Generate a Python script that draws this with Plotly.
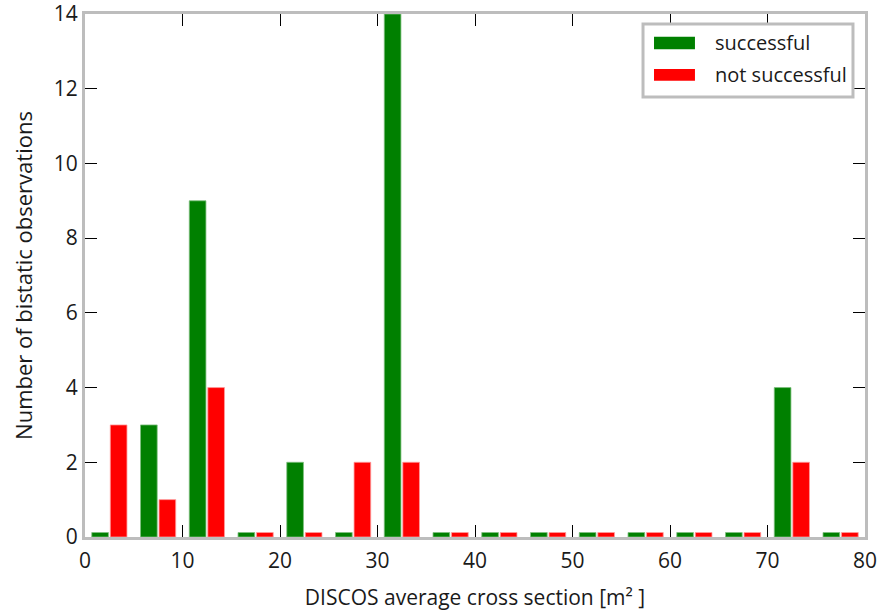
import plotly.graph_objects as go

bin_centers = [2.5, 7.5, 12.5, 17.5, 22.5, 27.5, 32.5, 37.5, 42.5, 47.5, 52.5, 57.5, 62.5, 67.5, 72.5, 77.5]
successful = [0, 3, 9, 0, 2, 0, 14, 0, 0, 0, 0, 0, 0, 0, 4, 0]
not_successful = [3, 1, 4, 0, 0, 2, 2, 0, 0, 0, 0, 0, 0, 0, 2, 0]
series_names = ["successful", "not successful"]
series_colors = ["#008000", "#ff0000"]
edge_colors = ["#7fbf7f", "#ff9a9a"]
zero_height = 0.12  # zero bins drawn as thin stubs in the original

def disp(vals):
    return [v if v > 0 else zero_height for v in vals]

font_family = "Open Sans, Noto Sans, DejaVu Sans, sans-serif"
text_color = "#1a1a1a"
frame_color = "#bdbdbd"
fs = 21

fig = go.Figure()
for vals, name, col, ecol in zip([successful, not_successful], series_names, series_colors, edge_colors):
    fig.add_trace(go.Bar(x=bin_centers, y=disp(vals), name=name,
                         marker=dict(color=col, line=dict(color=ecol, width=0.8)),
                         showlegend=False))

axis_common = dict(
    showline=True, linecolor=frame_color, linewidth=3, mirror="ticks",
    ticks="inside", ticklen=12, tickwidth=1.2, tickcolor="#000000",
    showgrid=False, zeroline=False, automargin=False, ticklabeloverflow="allow",
    tickfont=dict(family=font_family, size=fs, color=text_color),
)

fig.update_layout(
    width=879, height=612,
    margin=dict(l=85, r=14, t=14, b=75),
    paper_bgcolor="white", plot_bgcolor="white",
    barmode="group", bargap=0.24, bargroupgap=0.1,
    font=dict(family=font_family, size=fs, color=text_color),
    showlegend=False,
    xaxis=dict(range=[0, 80], tick0=0, dtick=10, ticklabelstandoff=3,
               title=dict(text="DISCOS average cross section [m² ]", standoff=18,
                          font=dict(family=font_family, size=fs, color=text_color)),
               **axis_common),
    yaxis=dict(range=[0, 14], tick0=0, dtick=2,
               title=dict(text="Number of bistatic observations", standoff=16,
                          font=dict(family=font_family, size=fs + 1, color=text_color)),
               **axis_common),
)

# Legend box drawn manually (wide swatches like the original)
shapes = [dict(type="rect", xref="paper", yref="paper", x0=0.7154, x1=0.9846, y0=0.8413, y1=0.9809,
               line=dict(color=frame_color, width=3), fillcolor="white", layer="above")]
swatch_y = [(0.9325, 0.9566), (0.8725, 0.8948)]
text_y = [0.9446, 0.8834]
annotations = []
for (y0, y1), ty, name, col in zip(swatch_y, text_y, series_names, series_colors):
    shapes.append(dict(type="rect", xref="paper", yref="paper", x0=0.7295, x1=0.782, y0=y0, y1=y1,
                       line=dict(width=0), fillcolor=col, layer="above"))
    annotations.append(dict(xref="paper", yref="paper", x=0.8051, y=ty, xanchor="left", yanchor="middle",
                            text=name, showarrow=False,
                            font=dict(family=font_family, size=20, color=text_color)))
fig.update_layout(shapes=shapes, annotations=annotations)

fig.write_html("out.html", config={"displayModeBar": False},
               post_script="document.body.style.margin='0';")
